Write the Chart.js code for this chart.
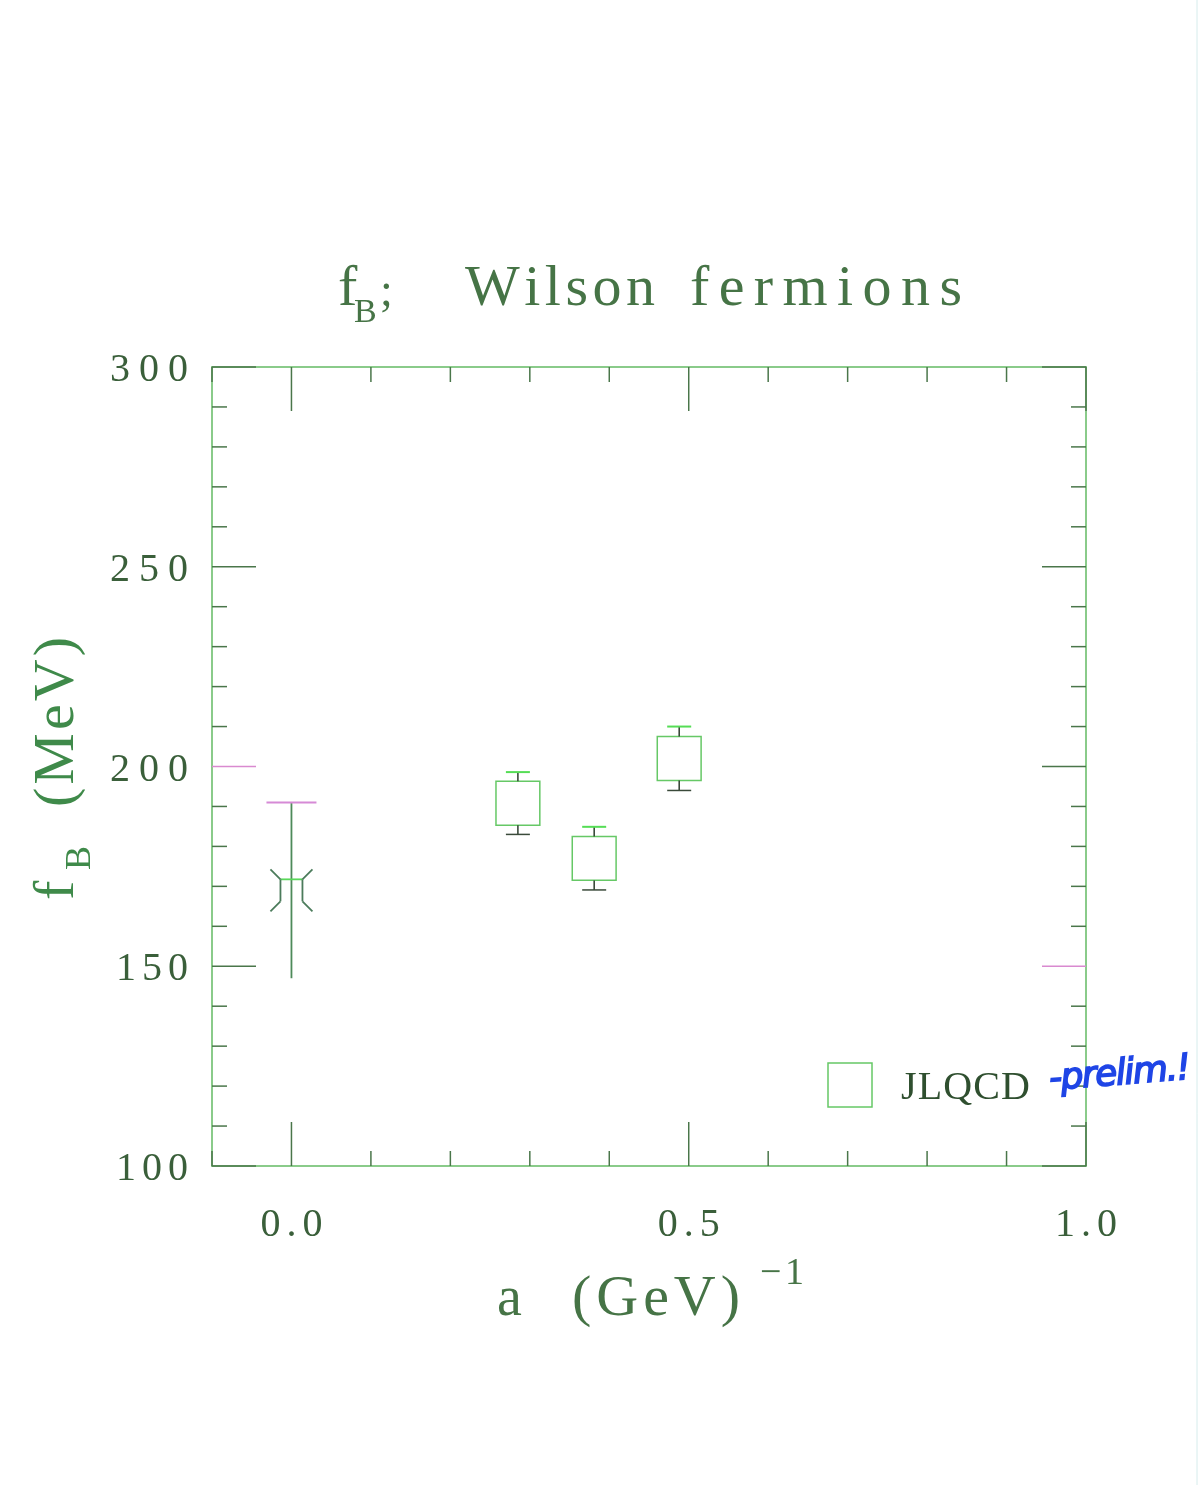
<!DOCTYPE html>
<html>
<head>
<meta charset="utf-8">
<title>f_B; Wilson fermions</title>
<script src="https://cdn.jsdelivr.net/npm/chart.js@4.4.0/dist/chart.umd.min.js"></script>
<style>
  html, body { margin: 0; padding: 0; background: #fff; }
  canvas { display: block; }
</style>
</head>
<body>
<canvas id="fbChart" width="1200" height="1485"></canvas>
<script>
// continuum extrapolation (a -> 0)
const continuumA = [0.0];
const continuumFB = [169];
const continuumErr = [22];

// JLQCD preliminary points
const jlqcdA = [0.285, 0.381, 0.488];
const jlqcdFB = [190.8, 177.0, 202.0];
const jlqcdErr = [7.8, 7.9, 8.0];

// axes
const xTicks = [0.0, 0.5, 1.0];
const xTickLabels = ["0.0", "0.5", "1.0"];
const yTicks = [100, 150, 200, 250, 300];
const yTickLabels = ["100", "150", "200", "250", "300"];

const TEXT = "#3a5f3a";
const TICK = "#4a764a";
const FRAME = "#8acb8a";
const SERIF = "'Liberation Serif', 'DejaVu Serif', serif";

// draw a string char by char, spread so it fills the given width
function fitText(ctx, str, x, y, width, font, color, stroke) {
  ctx.save();
  ctx.font = font;
  ctx.fillStyle = color;
  ctx.strokeStyle = color;
  ctx.lineWidth = stroke || 0;
  ctx.textAlign = "left";
  ctx.textBaseline = "alphabetic";
  const chars = Array.from(str);
  const widths = chars.map(c => ctx.measureText(c).width);
  const total = widths.reduce((s, w) => s + w, 0);
  const gap = chars.length > 1 ? (width - total) / (chars.length - 1) : 0;
  let cx = x;
  chars.forEach((c, i) => {
    ctx.fillText(c, cx, y);
    if (stroke) ctx.strokeText(c, cx, y);
    cx += widths[i] + gap;
  });
  ctx.restore();
}

function line(ctx, x1, y1, x2, y2, color, w) {
  ctx.beginPath();
  ctx.strokeStyle = color;
  ctx.lineWidth = w || 1.5;
  ctx.moveTo(x1, y1);
  ctx.lineTo(x2, y2);
  ctx.stroke();
}

const framePlugin = {
  id: "frame",
  beforeDraw(chart) {
    const ctx = chart.ctx;
    ctx.save();
    ctx.fillStyle = "#fff";
    ctx.fillRect(0, 0, chart.width, chart.height);
    // faint scan edge
    line(ctx, 1197, 0, 1197, chart.height, "#d6ecec", 1);
    ctx.restore();
  },
  afterDraw(chart) {
    const ctx = chart.ctx;
    const { left, right, top, bottom } = chart.chartArea;
    const xs = chart.scales.x, ys = chart.scales.y;
    ctx.save();

    // box
    ctx.strokeStyle = FRAME;
    ctx.lineWidth = 2;
    ctx.strokeRect(left, top, right - left, bottom - top);

    // minor ticks every 0.1 on x, every 10 on y (pointing inward)
    const major = 44, minor = 15;
    for (let i = 0; i <= 11; i++) {
      const v = -0.1 + i * 0.1;
      const px = xs.getPixelForValue(v);
      const isMajor = xTicks.some(t => Math.abs(t - v) < 1e-6);
      const len = isMajor ? major : minor;
      line(ctx, px, bottom, px, bottom - len, TICK, 1.5);
      line(ctx, px, top, px, top + len, TICK, 1.5);
    }
    for (let v = 100; v <= 300; v += 10) {
      const py = ys.getPixelForValue(v);
      const isMajor = yTicks.indexOf(v) >= 0;
      const len = isMajor ? major : minor;
      line(ctx, left, py, left + len, py, isMajor && v === 200 ? "#d98ad0" : TICK, 1.5);
      line(ctx, right, py, right - len, py, isMajor && v === 150 ? "#d98ad0" : TICK, 1.5);
    }

    // tick labels
    yTicks.forEach((v, i) => {
      const py = ys.getPixelForValue(v);
      const w = yTickLabels[i][0] === "1" ? 72 : 78;
      fitText(ctx, yTickLabels[i], 188 - w, py + 14, w, "40px " + SERIF, TEXT);
    });
    xTicks.forEach((v, i) => {
      const px = xs.getPixelForValue(v);
      fitText(ctx, xTickLabels[i], px - 31, 1236, 62, "40px " + SERIF, TEXT);
    });

    // title
    const TITLE = "#467446";
    fitText(ctx, "f", 338, 305, 14, "58px " + SERIF, TITLE);
    fitText(ctx, "B", 354, 322, 20, "34px " + SERIF, TITLE);
    fitText(ctx, ";", 380, 305, 8, "46px " + SERIF, TITLE);
    fitText(ctx, "Wilson", 465, 305, 190, "58px " + SERIF, TITLE);
    fitText(ctx, "fermions", 690, 305, 272, "58px " + SERIF, TITLE);

    // x axis title
    fitText(ctx, "a", 497, 1315, 28, "56px " + SERIF, "#467446");
    fitText(ctx, "(GeV)", 572, 1315, 168, "58px " + SERIF, "#467446");
    fitText(ctx, "\u22121", 760, 1284, 44, "38px " + SERIF, "#467446");

    // y axis title (rotated)
    ctx.save();
    ctx.translate(73, 900);
    ctx.rotate(-Math.PI / 2);
    fitText(ctx, "f", 0, 0, 16, "58px " + SERIF, "#3f8a4a");
    fitText(ctx, "B", 30, 17, 22, "36px " + SERIF, "#3f8a4a");
    fitText(ctx, "(MeV)", 93, 0, 170, "58px " + SERIF, "#3f8a4a");
    ctx.restore();

    // legend
    const ds = chart.data.datasets[1];
    ctx.strokeStyle = ds.borderColor;
    ctx.lineWidth = ds.borderWidth;
    ctx.strokeRect(828, 1063, 44, 44);
    fitText(ctx, ds.label, 901, 1099, 129, "40px " + SERIF, "#2f4f2f");

    // handwritten note
    ctx.save();
    ctx.translate(1050, 1090);
    ctx.rotate(-0.08);
    fitText(ctx, "-prelim.!", 0, 0, 142, "italic 36px 'DejaVu Sans', sans-serif", "#1f45e6", 1.6);
    ctx.restore();

    ctx.restore();
  },
  afterDatasetsDraw(chart) {
    const ctx = chart.ctx;
    const ys = chart.scales.y;
    ctx.save();

    // continuum point: error bar + bow-tie square symbol
    chart.getDatasetMeta(0).data.forEach((pt, i) => {
      const cx = pt.x, cy = pt.y;
      const yt = ys.getPixelForValue(continuumFB[i] + continuumErr[i]);
      const yb = ys.getPixelForValue(continuumFB[i] - continuumErr[i]);
      line(ctx, cx, yt, cx, yb, "#4e8a5a", 1.8);
      line(ctx, cx - 25, yt, cx + 25, yt, "#d68ad6", 2);
      const h = 11, r = 10;
      line(ctx, cx - h, cy - h, cx + h, cy - h, "#5ad85a", 1.8);
      line(ctx, cx - h, cy - h, cx - h, cy + h, "#4b7b5b", 1.8);
      line(ctx, cx + h, cy - h, cx + h, cy + h, "#4b7b5b", 1.8);
      line(ctx, cx - h, cy - h, cx - h - r, cy - h - r, "#4b7b5b", 1.8);
      line(ctx, cx + h, cy - h, cx + h + r, cy - h - r, "#4b7b5b", 1.8);
      line(ctx, cx - h, cy + h, cx - h - r, cy + h + r, "#4b7b5b", 1.8);
      line(ctx, cx + h, cy + h, cx + h + r, cy + h + r, "#4b7b5b", 1.8);
    });

    // JLQCD error bars outside the open squares
    chart.getDatasetMeta(1).data.forEach((pt, i) => {
      const cx = pt.x, cy = pt.y;
      const half = 22;
      const yt = ys.getPixelForValue(jlqcdFB[i] + jlqcdErr[i]);
      const yb = ys.getPixelForValue(jlqcdFB[i] - jlqcdErr[i]);
      line(ctx, cx, yt, cx, cy - half, "#2d3d2d", 1.5);
      line(ctx, cx, cy + half, cx, yb, "#2d3d2d", 1.5);
      line(ctx, cx - 12, yt, cx + 12, yt, "#55dd55", 2);
      line(ctx, cx - 12, yb, cx + 12, yb, "#3a4a3a", 1.5);
    });
    ctx.restore();
  }
};

const ctx = document.getElementById("fbChart");
new Chart(ctx, {
  type: "scatter",
  data: {
    datasets: [
      {
        label: "continuum",
        data: continuumA.map((a, i) => ({ x: a, y: continuumFB[i] })),
        pointRadius: 0
      },
      {
        label: "JLQCD",
        data: jlqcdA.map((a, i) => ({ x: a, y: jlqcdFB[i] })),
        pointStyle: "rect",
        pointRadius: 31,
        borderColor: "#66c866",
        borderWidth: 1.5,
        backgroundColor: "rgba(0,0,0,0)"
      }
    ]
  },
  options: {
    responsive: false,
    animation: false,
    devicePixelRatio: 1,
    layout: { padding: { left: 212, right: 114, top: 367, bottom: 319 } },
    scales: {
      x: { type: "linear", min: -0.1, max: 1.0, display: false },
      y: { type: "linear", min: 100, max: 300, display: false }
    },
    plugins: {
      legend: { display: false },
      tooltip: { enabled: false }
    }
  },
  plugins: [framePlugin]
});
</script>
</body>
</html>
